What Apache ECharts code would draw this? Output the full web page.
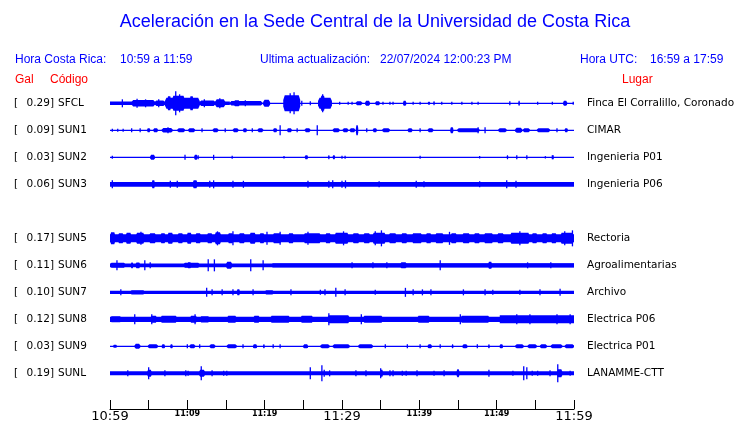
<!DOCTYPE html>
<html><head><meta charset="utf-8">
<script src="https://cdn.jsdelivr.net/npm/echarts@6/dist/echarts.min.js"></script>
<style>html,body{margin:0;padding:0;background:#fff}#c{width:740px;height:423px}</style>
</head><body><div id="c"></div>
<script>
// ---------------- data ----------------
const titleText = 'Aceleración en la Sede Central de la Universidad de Costa Rica';
const crTime = '10:59 a 11:59';
const utcTime = '16:59 a 17:59';
const updated = '22/07/2024 12:00:23 PM';
const tickLabels = ['10:59','','11:09','','11:19','','11:29','','11:39','','11:49','','11:59'];
const bigTicks = ['10:59','11:29','11:59'];
const stations = ['SFCL','SUN1','SUN2','SUN3','SUN5','SUN6','SUN7','SUN8','SUN9','SUNL'];
const peakGal = [0.29,0.09,0.03,0.06,0.17,0.11,0.10,0.12,0.03,0.19];
const places = ['Finca El Corralillo, Coronado','CIMAR','Ingenieria P01','Ingenieria P06','Rectoria','Agroalimentarias','Archivo','Electrica P06','Electrica P01','LANAMME-CTT'];
const rowIndex = [1,2,3,4,6,7,8,9,10,11];
const baseAmp = [0.6,0.6,0.6,2.4,4.0,1.8,1.7,2.6,0.6,2.0];
// bursts: [tStart(min), tEnd(min), amplitude] or spikes: [t(min), amplitude]
const trSFCL = [[0,15.5,1.7],[1.6,4],[2.8,5.8,3.3],[3.5,4.5],[4.6,4],[5.8,7.1,2.8],[6.3,4],[7.1,11.6,5.5],[7.4,7.9,7],[8.0,9.7,7.5],[8.5,12],[9.0,9],[10.3,10.8,7],[11.6,13.6,2.8],[12.2,4],[13.6,14.9,4],[14.2,5],[15.5,19.7,2.3],[16.0,16.8,3],[17.5,3],[19.8,20.7,3.5],[22.4,24.6,8],[23.3,10],[23.8,11],[24.8,2.5],[25.9,2],[26.9,28.7,5.5],[27.2,27.8,7.5],[27.5,9],[29.7,1.5],[30.8,1.5],[31.3,1.5],[31.8,32.6,2],[33.0,33.6,2.5],[34.3,34.9,2],[35.3,1.5],[36.2,1.5],[36.6,1.5],[37.9,38.3,2.5],[39.2,1.5],[40.1,1.5],[41.1,41.4,1.5],[41.8,42.0,2],[42.9,1.5],[44.2,1.5],[45.5,1.5],[46.8,1.5],[47.6,1.5],[51.7,2],[52.8,53.0,2.5],[55.3,1.5],[57.2,1.5],[58.6,59.1,2.5],[59.9,1.5]];
const trSUN1 = [[0.3,1.5],[1.0,1.5],[1.7,1.5],[2.8,2],[3.9,2],[4.8,5.2,2],[5.6,6.2,2],[6.7,8.1,2.3],[7.5,3],[8.7,9.7,2],[10.1,11.0,2],[11.9,2],[13.3,14.0,2],[14.9,2],[15.9,16.6,2],[17.2,17.7,2],[18.4,2],[19.1,19.8,2],[21.1,21.6,2],[22.0,5],[22.9,23.5,2],[24.2,2],[25.2,25.9,2],[26.8,5],[28.8,29.7,2],[30.1,30.8,2],[31.0,31.7,2],[31.8,32.1,5],[33.2,2],[34.0,34.5,2],[35.2,36.2,2],[38.5,39.1,2],[40.1,2],[41.1,41.8,2],[44.0,44.4,3],[44.9,47.8,2],[47.6,3],[48.5,3],[50.2,51.3,2],[52.4,53.3,2.5],[53.4,54.3,2],[55.2,56.9,2],[57.8,2],[58.8,59.2,2]];
const trSUN2 = [[0.3,1.5],[5.2,5.8,2.5],[9.7,2.5],[10.9,11.3,2.5],[11.4,2],[13.4,2.5],[15.8,1.5],[22.5,1.2],[25.2,25.6,2],[28.2,28.4,2],[28.8,29.1,2],[30.0,1.5],[30.4,1.5],[40.1,1.5],[47.8,1.2],[51.3,51.5,2],[52.6,2],[53.9,2],[56.3,1.2],[57.2,2],[57.3,2]];
const trSUN3 = [[0.3,4],[5.4,5.8,4],[7.8,3.5],[8.7,3.5],[10.7,11.3,4],[12.9,3.5],[13.4,4],[15.9,3.5],[17.2,17.3,3.5],[25.6,3.5],[28.3,3.5],[28.8,4],[30.0,3.5],[30.4,30.5,4],[34.8,3],[39.6,3.5],[40.6,3],[47.8,3],[51.3,4],[52.5,3.5]];
const trSUN5 = [[0,0.7,6],[1.0,1.8,5],[2.0,2.8,5.5],[3.3,4.5,5.5],[4.0,6.5],[5.0,6.0,5],[6.5,7.2,5],[7.4,8.2,5.5],[8.7,9.5,5],[9.9,10.6,5.5],[11.0,11.8,5],[12.5,13.3,5],[13.5,14.4,6],[13.9,7],[15.2,16.0,5],[15.9,7],[16.6,17.5,5],[18.0,18.9,5.5],[19.3,20.0,5],[20.3,6.5],[21.0,22.2,5],[22.0,6.5],[23.0,23.8,5],[25.0,27.3,5],[25.6,6.5],[27.8,28.6,5],[29.0,30.9,5.5],[30.2,7],[31.3,32.3,5],[32.7,33.7,5],[33.9,35.7,5.5],[35.1,8],[34.3,7],[36.0,37.1,5],[37.6,38.5,5],[39.0,40.4,5],[40.8,41.6,5],[42.0,43.2,5],[43.9,6.5],[44.0,44.9,5],[45.5,46.6,5],[47.0,47.9,5],[48.3,49.6,5],[50.0,51.0,5],[51.7,54.3,5.5],[53.0,7],[54.5,55.3,5],[55.8,56.6,5],[57.0,57.8,5],[58.2,60,5.5],[58.8,7],[59.8,8]];
const trSUN6 = [[0,2.0,2.5],[0.9,5],[2.7,3.0,2.8],[3.3,3.9,2.8],[4.5,5],[5.2,3],[9.5,11.6,2.5],[10.0,10.5,3],[12.7,6],[13.5,6],[15.0,15.8,3.5],[18.2,6],[19.8,5],[21.0,60,2.2],[31.3,3],[34.0,3],[35.8,3],[37.5,38.4,3],[42.7,5],[48.9,49.4,3.5],[54.0,3],[57.0,3]];
const trSUN7 = [[1.4,3],[2.6,4.5,2.2],[12.5,4.5],[13.2,3],[14.5,3],[15.9,3],[16.4,16.8,3],[18.5,3],[20.0,21.2,2.2],[23.4,3],[27.2,2.5],[27.8,3],[29.2,4.5],[30.4,3],[34.3,2.5],[38.2,4.5],[39.2,3],[40.4,3],[41.5,3],[45.7,3],[48.5,3],[49.5,2.5],[53.0,2.5],[55.6,3],[58.2,3.5]];
const trSUN8 = [[0,1.5,3],[3.2,5],[5.2,6.1,3.5],[5.4,5],[6.5,8.7,3.5],[10.3,11.3,3.5],[11.0,5],[11.6,12.9,3.2],[15.1,16.4,3.5],[18.5,19.4,3.5],[20.7,23.3,3.5],[24.6,26.3,3.5],[28.1,31.0,4],[28.3,6],[32.5,5],[32.7,35.3,3.5],[39.7,41.4,3.5],[45.3,5],[45.3,49.1,3.5],[50.4,60,4],[52.6,5],[54.3,5],[57.8,5],[59.5,5]];
const trSUN9 = [[0.4,0.9,1.5],[3.2,3.9,2.5],[4.9,6.2,2],[6.7,7.1,2],[7.8,8.1,2],[10.0,2],[10.3,11.0,2],[11.6,2],[12.9,13.6,2],[15.1,16.4,2],[17.2,2],[18.5,19.0,2],[19.8,20.0,2],[21.1,2],[22.0,2],[25.0,25.6,2],[27.2,28.4,2],[28.8,31.0,2],[32.1,34.0,2],[35.6,2],[38.4,38.5,2],[40.1,2],[41.1,41.6,2],[42.7,2],[44.2,44.4,2],[45.6,46.2,2],[47.5,2],[48.9,49.1,2],[50.4,50.8,2],[52.4,53.5,2],[54.0,55.2,2],[55.6,56.5,2],[57.0,58.5,2],[58.8,60,2]];
const trSUNL = [[2.3,3],[4.8,5.4,3.5],[5.0,6],[7.1,3],[9.8,3],[10.1,2.5],[11.5,12.3,3.5],[11.8,7],[13.2,3],[14.7,2.5],[15.1,2.5],[25.9,6],[27.4,8],[27.7,3.5],[28.4,3],[31.8,3],[33.1,3],[34.9,35.3,3.5],[35.0,5],[36.2,3],[36.6,3],[37.8,2.5],[38.3,2.5],[39.7,3],[41.9,2.5],[43.2,3],[44.8,45.2,3.5],[45.0,4],[49.0,3.5],[52.1,2.5],[53.5,7],[53.9,6],[54.6,2.5],[55.3,2.5],[56.9,3],[57.8,58.5,4],[57.9,9],[59.5,2.5]];
const traces = [trSFCL,trSUN1,trSUN2,trSUN3,trSUN5,trSUN6,trSUN7,trSUN8,trSUN9,trSUNL];

// ---------------- chart ----------------
const BLUE = '#0000ff';
const AMP_UNIT = 1 / 27; // amplitude counts -> row units
const chart = echarts.init(document.getElementById('c'), null, {renderer: 'canvas'});

function renderTrace(params, api) {
  const t0 = api.value(0), t1 = api.value(1), a = api.value(2), r = api.value(3);
  const p0 = api.coord([t0, r]), p1 = api.coord([t1, r]);
  const h = api.size([0, a * AMP_UNIT])[1];
  const y = p0[1];
  let x0 = p0[0], x1 = p1[0];
  if (x1 - x0 < 1.3) {
    const xc = (x0 + x1) / 2;
    return {type: 'rect', shape: {x: xc - 0.65, y: y - h, width: 1.3, height: 2 * h}, style: {fill: BLUE}};
  }
  if (params.dataIndex === 0 || x1 - x0 > 60) {
    return {type: 'rect', shape: {x: x0, y: y - h, width: x1 - x0, height: 2 * h}, style: {fill: BLUE}};
  }
  const tp = Math.min((x1 - x0) * 0.2, 1.5);
  return {type: 'polygon', shape: {points: [[x0, y - h * 0.4], [x0 + tp, y - h], [x1 - tp, y - h], [x1, y - h * 0.4], [x1, y + h * 0.4], [x1 - tp, y + h], [x0 + tp, y + h], [x0, y + h * 0.4]]},
    style: {fill: BLUE}};
}
const labelFont = '10.5px "DejaVu Sans"';
function renderLabels(params, api) {
  const r = api.value(1), i = api.value(2);
  const y = api.coord([0, r])[1];
  const st = {font: labelFont, fill: '#000', verticalAlign: 'middle'};
  return {type: 'group', children: [
    {type: 'text', x: 14, y: y, style: Object.assign({text: '['}, st)},
    {type: 'text', x: 54, y: y, style: Object.assign({text: peakGal[i].toFixed(2) + ']', align: 'right'}, st)},
    {type: 'text', x: 58, y: y, style: Object.assign({text: stations[i]}, st)},
    {type: 'text', x: 587, y: y, style: Object.assign({text: places[i]}, st)}
  ]};
}

const series = stations.map((s, i) => ({
  type: 'custom', name: s, silent: true, clip: false,
  renderItem: renderTrace,
  encode: {x: [0, 1], y: 3},
  data: [[0, 60, baseAmp[i], rowIndex[i]]].concat(traces[i].map(b => b.length === 2 ? [b[0], b[0], b[1], rowIndex[i]] : [b[0], b[1], b[2], rowIndex[i]]))
}));
series.push({
  type: 'custom', name: 'labels', silent: true, clip: false,
  renderItem: renderLabels,
  encode: {x: 0, y: 1},
  data: stations.map((s, i) => [0, rowIndex[i], i])
});

const hdr = {font: '12px "Liberation Sans"', fill: BLUE};
const red = {font: '12px "Liberation Sans"', fill: '#ff0000'};
chart.setOption({
  animation: false,
  backgroundColor: '#fff',
  grid: {left: 110, right: 166, top: 76.3, bottom: 14},
  xAxis: {type: 'value', min: 0, max: 60, interval: 5, position: 'bottom',
    axisLine: {onZero: false, lineStyle: {color: '#000', width: 1}},
    axisTick: {inside: true, length: 9, lineStyle: {color: '#000'}},
    splitLine: {show: false},
    axisLabel: {margin: 1, showMinLabel: true, showMaxLabel: true,
      formatter: v => { const s = tickLabels[Math.round(v / 5)] || ''; if (!s) return ''; return bigTicks.includes(s) ? '{big|' + s + '}' : '{small|' + s + '}'; },
      rich: {big: {fontFamily: 'DejaVu Sans', fontSize: 13, color: '#000'},
             small: {fontFamily: 'DejaVu Sans', fontSize: 8, fontWeight: 'bold', color: '#000'}}}
  },
  yAxis: {type: 'value', min: 0, max: 12.32, inverse: true, show: false},
  graphic: [
    {type: 'text', x: 375, y: 22, style: {text: titleText, font: '18px "Liberation Sans"', fill: BLUE, align: 'center', verticalAlign: 'middle'}},
    {type: 'text', left: 15, top: 54, style: Object.assign({text: 'Hora Costa Rica:'}, hdr)},
    {type: 'text', left: 120, top: 54, style: Object.assign({text: crTime}, hdr)},
    {type: 'text', left: 260, top: 54, style: Object.assign({text: 'Ultima actualización:'}, hdr)},
    {type: 'text', left: 380, top: 54, style: Object.assign({text: updated}, hdr)},
    {type: 'text', left: 580, top: 54, style: Object.assign({text: 'Hora UTC:'}, hdr)},
    {type: 'text', left: 650, top: 54, style: Object.assign({text: utcTime}, hdr)},
    {type: 'text', left: 15, top: 74, style: Object.assign({text: 'Gal'}, red)},
    {type: 'text', left: 50, top: 74, style: Object.assign({text: 'Código'}, red)},
    {type: 'text', left: 622, top: 74, style: Object.assign({text: 'Lugar'}, red)}
  ],
  series: series
});
</script></body></html>
